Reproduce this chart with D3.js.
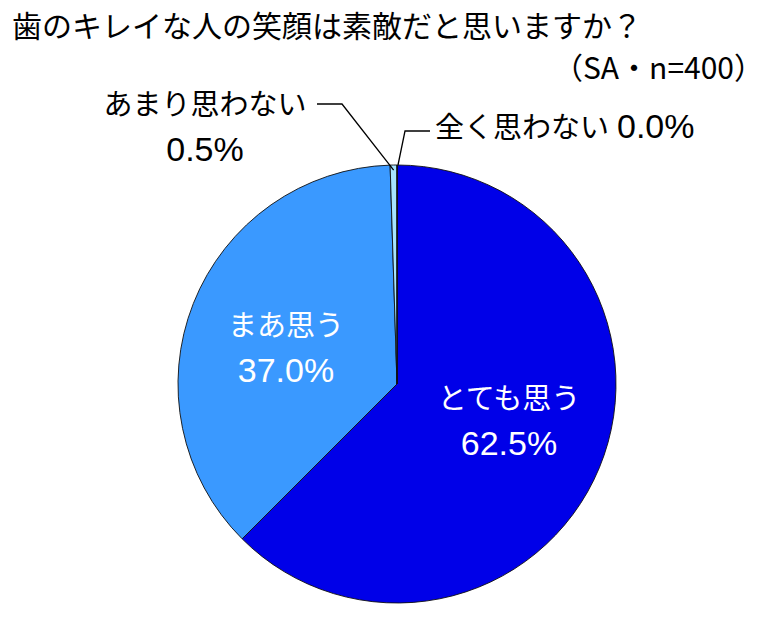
<!DOCTYPE html>
<html><head><meta charset="utf-8">
<script src="https://cdn.jsdelivr.net/npm/d3@7"></script>
<style>
body{margin:0;background:#fff;}
text{font-family:"Liberation Sans","Noto Sans CJK JP",sans-serif;}
</style></head>
<body><svg id="c" width="776" height="620"></svg>
<script>
const categories = ["とても思う","まあ思う","あまり思わない","全く思わない"];
const values = [62.5, 37.0, 0.5, 0.0];
const colors = ["#0000E8","#3A99FF","#A6E4FF","#CCF2FF"];
const title = "歯のキレイな人の笑顔は素敵だと思いますか？";
const subtitle = "（SA・n=400）";

const svg = d3.select("#c");
const cx = 397, cy = 384, R = 219;
const data = categories.map((c,i)=>({name:c,value:values[i],color:colors[i]}));
const pie = d3.pie().sort(null).value(d=>d.value);
const arcs = pie(data);
const arc = d3.arc().innerRadius(0).outerRadius(R);
const g = svg.append("g").attr("transform",`translate(${cx},${cy})`);
g.selectAll("path").data(arcs).join("path")
  .attr("d",arc).attr("fill",d=>d.data.color)
  .attr("stroke","#111").attr("stroke-width",0.9).attr("stroke-linejoin","round");

svg.append("text").attr("x",12).attr("y",37).attr("font-size",30).attr("fill","#000")
  .style("font-family","'Noto Sans CJK JP',sans-serif").text(title);
svg.append("text").attr("x",764).attr("y",79).attr("font-size",30).attr("text-anchor","end")
  .attr("fill","#000").style("font-family","'Noto Sans CJK JP',sans-serif").text(subtitle);

function fmt(v){return v.toFixed(1)+"%";}

// inside labels
const inside = [
  {i:0, x:509, y1:409, y2:455},
  {i:1, x:286, y1:336, y2:382}
];
inside.forEach(o=>{
  const t = svg.append("text").attr("text-anchor","middle").attr("fill","#fff");
  t.append("tspan").attr("x",o.x).attr("y",o.y1).attr("font-size",29).text(categories[o.i]);
  t.append("tspan").attr("x",o.x).attr("y",o.y2).attr("font-size",34).text(fmt(values[o.i]));
});

// outside label: あまり思わない
const pt = (a, r) => [cx + r*Math.sin(a), cy - r*Math.cos(a)];
const a2 = (arcs[2].startAngle + arcs[2].endAngle)/2;
const p2 = pt(a2, R-5);
svg.append("polyline").attr("fill","none").attr("stroke","#000").attr("stroke-width",1.3)
  .attr("points",[[317,104],[342,104],p2].map(p=>p.join(",")).join(" "));
const t2 = svg.append("text").attr("text-anchor","middle").attr("fill","#000");
t2.append("tspan").attr("x",205).attr("y",115).attr("font-size",29).text(categories[2]);
t2.append("tspan").attr("x",205).attr("y",161).attr("font-size",34).text(fmt(values[2]));

// outside label: 全く思わない
const a3 = arcs[3].startAngle;
const p3 = pt(a3, R);
svg.append("polyline").attr("fill","none").attr("stroke","#000").attr("stroke-width",1.3)
  .attr("points",[[430,131],[405,131],[p3[0]+1,p3[1]]].map(p=>p.join(",")).join(" "));
const t3 = svg.append("text").attr("x",435).attr("y",138).attr("fill","#000");
t3.append("tspan").attr("font-size",29).text(categories[3]);
t3.append("tspan").attr("font-size",34).attr("dx",8).text(fmt(values[3]));
</script></body></html>
